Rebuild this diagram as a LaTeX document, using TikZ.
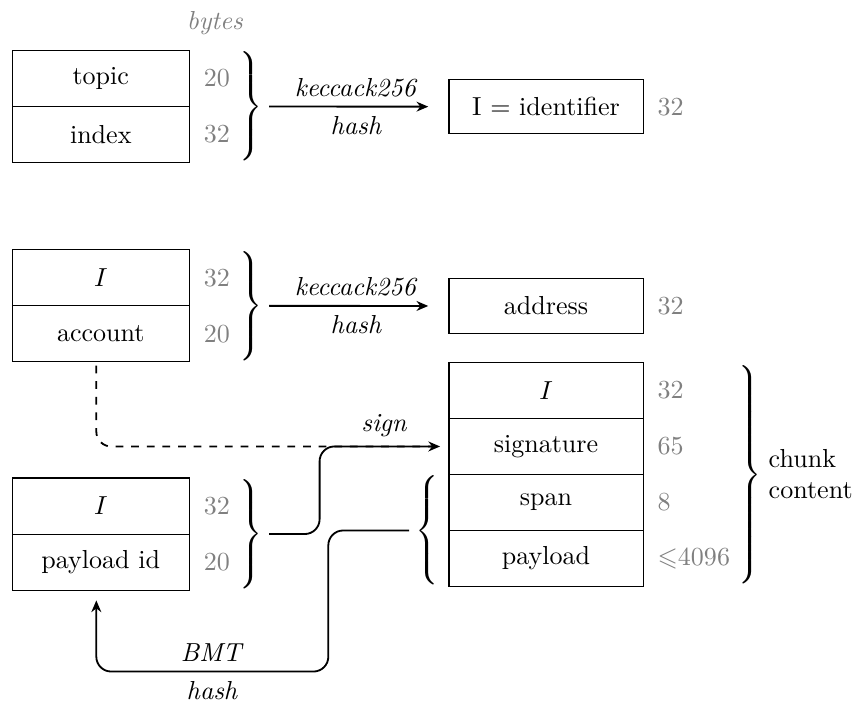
\documentclass[tikz,border=0pt]{standalone}
\usepackage{amssymb}
\usetikzlibrary{positioning,arrows.meta}
\newcommand{\bracer}[1]{$\left.\vcenter{\hbox{\rule{0pt}{#1}}}\right\}$}
\newcommand{\bracel}[1]{$\left\{\vcenter{\hbox{\rule{0pt}{#1}}}\right.$}
\begin{document}
\begin{tikzpicture}[
  field/.style={draw, minimum width=2.39cm, minimum height=0.756cm, inner sep=0pt, outer sep=0pt},
  wide/.style={field, minimum width=2.62cm},
  nbytes/.style={right=0.19cm of #1, inner sep=0pt, text=gray},
  brc/.style={inner sep=0pt, anchor=west},
  arr/.style={-{Stealth[length=4.5pt, width=3.8pt]}, line width=0.7pt}]
  \useasboundingbox (0,0) rectangle (11.54,9.50);
  % topic + index -> identifier
  \node[field] (topic) at (1.36,8.44) {topic};
  \node[field, below=0pt of topic] (index) {index};
  \node[nbytes=topic] (ntopic) {20};
  \node[nbytes=index] (nindex) {32};
  \node[text=gray] (unit) at (2.90,9.19) {\textit{bytes}};
  \node[brc] (br1) at ([xshift=0.63cm]index.north east) {\bracer{1.5cm}};
  \node[wide, minimum height=0.73cm] (ident) at (7.37,8.06) {I = identifier};
  \node[nbytes=ident] (nident) {32};
  \draw[arr, shorten <=0.08cm, shorten >=0.28cm] (br1.east) --
    node[above] {\textit{keccack256}} node[below] {\textit{hash}} (ident.west);
  % identifier + account -> address
  \node[field] (ikey) at (1.36,5.75) {$I$};
  \node[field, below=0pt of ikey] (account) {account};
  \node[nbytes=ikey] (nikey) {32};
  \node[nbytes=account] (naccount) {20};
  \node[brc] (br2) at ([xshift=0.63cm]account.north east) {\bracer{1.5cm}};
  \node[wide, minimum height=0.73cm] (address) at (7.37,5.37) {address};
  \node[nbytes=address] (naddress) {32};
  \draw[arr, shorten <=0.08cm, shorten >=0.28cm] (br2.east) --
    node[above] {\textit{keccack256}} node[below] {\textit{hash}} (address.west);
  % chunk
  \node[wide] (cid) at (7.37,4.23) {$I$};
  \node[wide, below=0pt of cid] (sig) {signature};
  \node[wide, below=0pt of sig] (span) {span};
  \node[wide, below=0pt of span] (payload) {payload};
  \node[nbytes=cid] (ncid) {32};
  \node[nbytes=sig] (nsig) {65};
  \node[nbytes=span] (nspan) {8};
  \node[nbytes=payload] (npayload) {$\leqslant$4096};
  \node[brc] (br5) at ([xshift=1.24cm]sig.south east) {\bracer{3.0cm}};
  \node[right=0.08cm of br5, align=left, inner sep=0pt] (chunklbl) {chunk\\content};
  \node[brc, anchor=east] (br4) at ([xshift=-0.09cm]payload.north west) {\bracel{1.5cm}};
  % identifier + payload id
  \node[field] (pkey) at (1.36,2.67) {$I$};
  \node[field, below=0pt of pkey] (pid) {payload id};
  \node[nbytes=pkey] (npkey) {32};
  \node[nbytes=pid] (npid) {20};
  \node[brc] (br3) at ([xshift=0.63cm]pid.north east) {\bracer{1.5cm}};
  % connectors
  \draw[line width=0.7pt, dashed, rounded corners=0.2cm, shorten <=0.05cm, shorten >=0.12cm]
    ([xshift=-0.06cm]account.south) |- (sig.west);
  \draw[arr, rounded corners=0.2cm, shorten <=0.08cm, shorten >=0.12cm]
    (br3.east) -- ++(0.76,0) |- node[pos=0.75, above] {\textit{sign}} (sig.west);
  \draw[arr, rounded corners=0.2cm, shorten <=0.08cm, shorten >=0.14cm]
    (br4.west) -- ++(-1.17,0) |- node[pos=0.75, above] {\textit{BMT}}
    node[pos=0.75, below] {\textit{hash}} ([xshift=-0.06cm, yshift=-1.1cm]pid.south)
    -- ([xshift=-0.06cm]pid.south);
\end{tikzpicture}
\end{document}
